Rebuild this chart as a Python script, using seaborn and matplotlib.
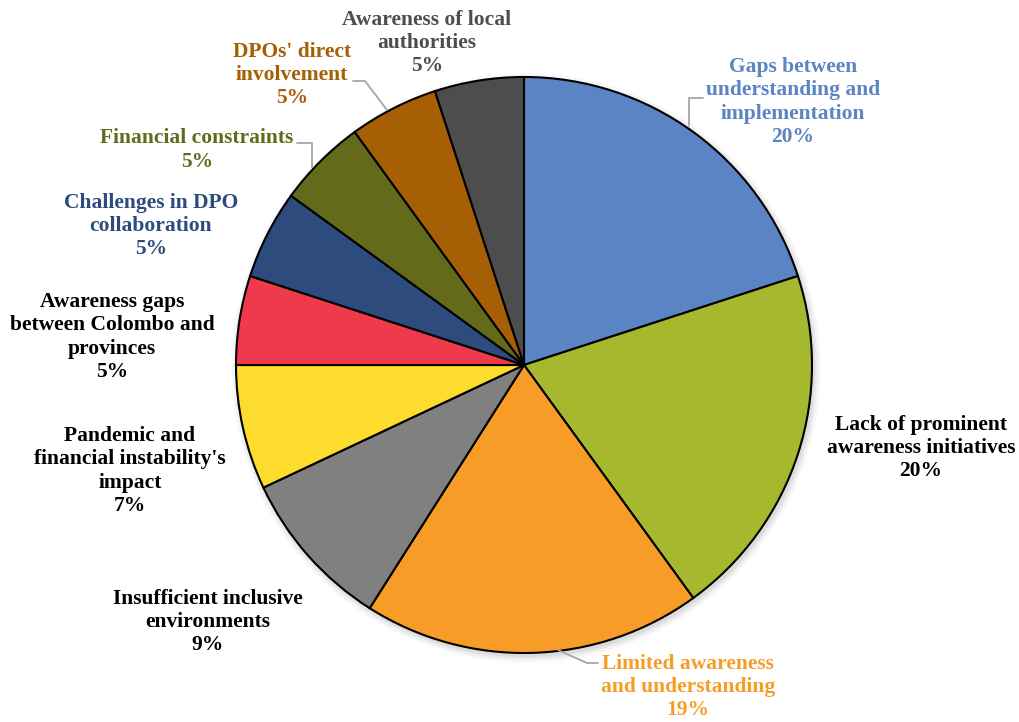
import matplotlib
matplotlib.use("Agg")
import matplotlib.pyplot as plt
from matplotlib.patches import Circle
import seaborn as sns

# Données
categories = [
    "Gaps between\nunderstanding and\nimplementation",
    "Lack of prominent\nawareness initiatives",
    "Limited awareness\nand understanding",
    "Insufficient inclusive\nenvironments",
    "Pandemic and\nfinancial instability's\nimpact",
    "Awareness gaps\nbetween Colombo and\nprovinces",
    "Challenges in DPO\ncollaboration",
    "Financial constraints",
    "DPOs' direct\ninvolvement",
    "Awareness of local\nauthorities",
]
shares = [20, 20, 19, 9, 7, 5, 5, 5, 5, 5]
slice_colors = ["#5B84C4", "#A5B82E", "#F79D27", "#808080", "#FDDC2E",
                "#EE3A4B", "#2D4B7C", "#636B1A", "#A65F05", "#4D4D4D"]
label_colors = ["#5B84C4", "#000000", "#F79D27", "#000000", "#000000",
                "#000000", "#2D4B7C", "#636B1A", "#A65F05", "#4D4D4D"]

# positions des étiquettes (pixels image, centre du bloc)
label_pos = [(793, 102), (921, 448), (688, 687), (208, 622), (130, 471),
             (112, 337), (151, 226), (197, 150), (292, 75), (427, 43)]

W, H = 1020, 722
cx, cy, r = 524, H - 365, 288

sns.set_theme(style="white")
plt.rcParams["font.family"] = ["Liberation Serif", "DejaVu Serif"]

fig = plt.figure(figsize=(W / 100, H / 100), dpi=100)
ax = fig.add_axes([0, 0, 1, 1])

# ombre légère
for i, a in enumerate([0.05, 0.04, 0.03, 0.02]):
    ax.add_patch(Circle((cx + 2, cy - 3), r + 1 + 2 * i, color="black",
                        alpha=a, lw=0, zorder=0))

ax.pie(shares, colors=slice_colors, startangle=90, counterclock=False,
       center=(cx, cy), radius=r, frame=True,
       wedgeprops=dict(edgecolor="black", linewidth=1.5))
ax.set_xlim(0, W)
ax.set_ylim(0, H)
ax.set_aspect("equal")
ax.axis("off")

for cat, val, col, (x, y) in zip(categories, shares, label_colors, label_pos):
    ax.text(x, H - y, f"{cat}\n{val}%", ha="center", va="center",
            fontsize=15.5, fontweight="bold", color=col, linespacing=1.23)

# lignes de rappel
leaders = [
    [(689, 126), (689, 98), (703, 98)],
    [(558, 650), (587, 663), (598, 663)],
    [(312, 167), (312, 143), (297, 143)],
    [(387, 110), (365, 81), (353, 81)],
]
for pts in leaders:
    xs = [p[0] for p in pts]
    ys = [H - p[1] for p in pts]
    ax.plot(xs, ys, color="#A6A6A6", lw=1.3, zorder=5)

plt.savefig("out.png", dpi=100)
